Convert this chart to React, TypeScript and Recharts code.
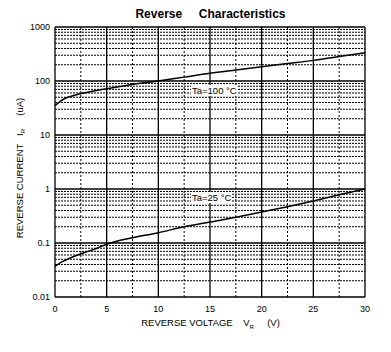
import { LineChart, Line, XAxis, YAxis, ReferenceLine } from 'recharts'

const voltage = [0, 0.5, 1, 2, 3, 4, 5, 7.5, 10, 12.5, 15, 17.5, 20, 22.5, 25, 27.5, 30]
const current100 = [35, 42, 48, 55, 61, 67, 72, 86, 100, 118, 139, 160, 184, 210, 241, 285, 335]
const current25 = [0.037, 0.043, 0.048, 0.058, 0.068, 0.079, 0.095, 0.125, 0.155, 0.2, 0.244, 0.3, 0.375, 0.47, 0.6, 0.78, 1.0]

const xTicks = [0, 5, 10, 15, 20, 25, 30]
const xMinor = [2.5, 7.5, 12.5, 17.5, 22.5, 27.5]
const yTicks = [0.01, 0.1, 1, 10, 100, 1000]
const decades = [0.01, 0.1, 1, 10, 100]
const multipliers = [2, 3, 4, 5, 6, 7, 8, 9]

const data = voltage.map((v, i) => ({ v, t100: current100[i], t25: current25[i] }))
const yMinor = decades.flatMap(d => multipliers.map(m => +(d * m).toPrecision(3)))

const font = 'Arial, "Liberation Sans", sans-serif'

export default function App() {
  return (
    <div style={{ position: 'absolute', left: 0, top: 0, width: 391, height: 352, background: '#fff', fontFamily: font }}>
      <div style={{ position: 'absolute', left: 0, width: 391, top: 7, textAlign: 'center', paddingLeft: 30, boxSizing: 'border-box', fontSize: 12, fontWeight: 700, whiteSpace: 'pre' }}>
        {'Reverse     Characteristics'}
      </div>
      <LineChart width={391} height={352} data={data} margin={{ top: 27, right: 26, bottom: 0, left: 0 }}>
        <XAxis dataKey="v" type="number" domain={[0, 30]} ticks={xTicks} height={55}
          axisLine={false} tickLine={false} tickSize={0} tickMargin={9}
          tick={{ fontSize: 9, fill: '#000', fontFamily: font }} />
        <YAxis type="number" scale="log" domain={[0.01, 1000]} ticks={yTicks} width={55} allowDataOverflow
          axisLine={false} tickLine={false} tickSize={0} tickMargin={5}
          tick={{ fontSize: 9, fill: '#000', fontFamily: font }} />
        {yMinor.map(y => (
          <ReferenceLine key={'ym' + y} y={y} stroke="#000" strokeWidth={1} strokeDasharray="2 1" />
        ))}
        {xMinor.map(x => (
          <ReferenceLine key={'xm' + x} x={x} stroke="#000" strokeWidth={1} strokeDasharray="2 2" />
        ))}
        {yTicks.map(y => (
          <ReferenceLine key={'y' + y} y={y} stroke="#000" strokeWidth={1.3} />
        ))}
        {xTicks.map(x => (
          <ReferenceLine key={'x' + x} x={x} stroke="#000" strokeWidth={1.3} />
        ))}
        <Line dataKey="t100" type="monotone" stroke="#000" strokeWidth={1.5} dot={false} isAnimationActive={false} />
        <Line dataKey="t25" type="monotone" stroke="#000" strokeWidth={1.5} dot={false} isAnimationActive={false} />
      </LineChart>
      <div style={{ position: 'absolute', left: 191, top: 85, fontSize: 9.5, background: '#fff', padding: '0 1px' }}>Ta=100 °C</div>
      <div style={{ position: 'absolute', left: 191, top: 192, fontSize: 9.5, background: '#fff', padding: '0 1px' }}>Ta=25 °C</div>
      <div style={{ position: 'absolute', left: 20, top: 168, width: 0, height: 0 }}>
        <div style={{ position: 'absolute', transform: 'translate(-50%, -50%) rotate(-90deg)', fontSize: 9.5, whiteSpace: 'pre' }}>
          {'REVERSE CURRENT   I'}<sub style={{ fontSize: 6 }}>R</sub>{'     (uA)'}
        </div>
      </div>
      <div style={{ position: 'absolute', left: 0, width: 391, top: 317, paddingLeft: 30, boxSizing: 'border-box', textAlign: 'center', fontSize: 9.5, whiteSpace: 'pre' }}>
        {'REVERSE VOLTAGE    V'}<sub style={{ fontSize: 6 }}>R</sub>{'     (V)'}
      </div>
    </div>
  )
}
